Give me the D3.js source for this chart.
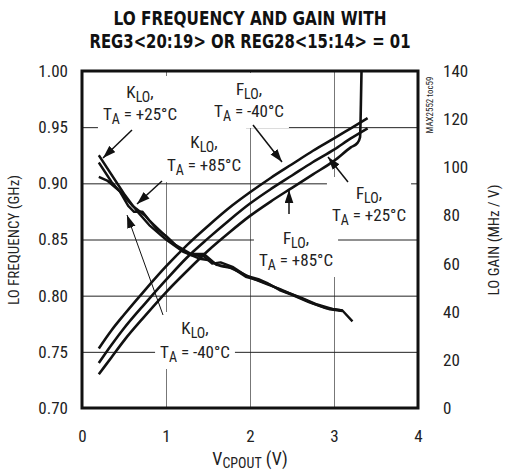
<!DOCTYPE html>
<html><head><meta charset="utf-8">
<script src="https://cdn.jsdelivr.net/npm/d3@7"></script>
<style>
body{margin:0;background:#fff;}
svg text{font-family:"Liberation Sans Narrow","Roboto Condensed","Roboto",sans-serif;fill:#222;}
</style></head><body>
<svg id="c" width="508" height="472"></svg>
<script>
// ---- data ----
const xTicks = [0, 1, 2, 3, 4];
const freqTicks = [0.70, 0.75, 0.80, 0.85, 0.90, 0.95, 1.00];
const gainTicks = [0, 20, 40, 60, 80, 100, 120, 140];

// LO frequency (GHz) vs VCPOUT (V)
const freqM40 = [[0.2,0.753],[0.35,0.769],[0.5,0.783],[0.75,0.805],[1.0,0.826],[1.25,0.845],[1.5,0.862],[1.75,0.878],[2.0,0.892],[2.25,0.905],[2.5,0.917],[2.75,0.929],[3.0,0.940],[3.2,0.949],[3.4,0.958]];
const freqP25 = [[0.2,0.740],[0.35,0.756],[0.5,0.771],[0.75,0.793],[1.0,0.814],[1.25,0.834],[1.5,0.851],[1.75,0.867],[2.0,0.882],[2.25,0.895],[2.5,0.907],[2.75,0.919],[3.0,0.930],[3.2,0.940],[3.4,0.949]];
const freqP85 = [[0.2,0.730],[0.35,0.745],[0.5,0.760],[0.75,0.782],[1.0,0.803],[1.25,0.822],[1.5,0.840],[1.75,0.856],[2.0,0.871],[2.25,0.884],[2.5,0.896],[2.75,0.908],[3.0,0.920],[3.2,0.932],[3.28,0.936],[3.31,0.941],[3.32,0.97],[3.33,1.01]];

// LO gain (MHz/V) vs VCPOUT (V)
const gainP25 = [[0.2,105],[0.35,97],[0.5,89],[0.65,82],[0.8,76],[1.0,70],[1.2,65],[1.4,62],[1.5,61.5],[1.65,59],[1.8,58],[1.95,54.5],[2.1,53],[2.25,51],[2.4,48.5],[2.6,46],[2.8,43],[3.0,41],[3.1,40.5],[3.22,36]];
const gainP85 = [[0.2,102],[0.35,94],[0.5,88],[0.6,84],[0.75,80],[0.9,74],[1.0,71.5],[1.15,66.5],[1.3,63.5],[1.45,63],[1.55,60],[1.65,60.5],[1.8,58.5],[1.95,55],[2.1,53.5],[2.2,52],[2.35,49],[2.5,47],[2.7,44],[2.9,41.5],[3.1,40.5]];
const gainM40 = [[0.2,96],[0.3,94.5],[0.45,90],[0.55,84],[0.62,81.5],[0.72,81.5],[0.8,78],[0.95,73],[1.1,68],[1.3,64],[1.45,64],[1.6,59.5],[1.75,58.5],[1.9,56],[2.05,53.5],[2.2,51.5],[2.35,49.5],[2.55,46.5],[2.75,43.5],[2.95,41],[3.1,40.3]];

const titleLines = ["LO FREQUENCY AND GAIN WITH", "REG3<20:19> OR REG28<15:14> = 01"];

// ---- layout ----
const L = 82, R = 418, T = 71, B = 408;
const svg = d3.select("#c");
const x = d3.scaleLinear([0, 4], [L, R]);
const yF = d3.scaleLinear([0.70, 1.00], [B, T]);
const yG = d3.scaleLinear([0, 140], [B, T]);

// title
svg.append("g").selectAll("text").data(titleLines).join("text")
  .attr("x", 250).attr("y", (d, i) => 25 + i * 23)
  .attr("text-anchor", "middle")
  .attr("textLength", (d, i) => i === 0 ? 273 : 321)
  .attr("lengthAdjust", "spacingAndGlyphs")
  .style("font-family", "'Liberation Sans Narrow','DejaVu Sans Condensed',sans-serif")
  .style("font-weight", "bold").style("font-size", "20px").style("fill", "#111")
  .text(d => d);

// gridlines
const grid = svg.append("g");
grid.append("g").attr("transform", `translate(0,${B})`)
  .call(d3.axisBottom(x).tickValues(xTicks.slice(1, -1)).tickSize(-(B - T)).tickFormat(""))
  .call(g => g.select(".domain").remove())
  .call(g => g.selectAll("line").attr("stroke", "#777").attr("stroke-width", 1));
grid.append("g").attr("transform", `translate(${L},0)`)
  .call(d3.axisLeft(yF).tickValues(freqTicks.slice(1, -1)).tickSize(-(R - L)).tickFormat(""))
  .call(g => g.select(".domain").remove())
  .call(g => g.selectAll("line").attr("stroke", "#222").attr("stroke-width", 1));

// tick labels
const fs = "17px";
svg.append("g").attr("transform", `translate(0,${B})`)
  .call(d3.axisBottom(x).tickValues(xTicks).tickSize(0).tickPadding(22).tickFormat(d3.format("d")))
  .call(g => g.select(".domain").remove())
  .call(g => g.selectAll("text").style("font-size", fs).style("font-family", null));
svg.append("g").attr("transform", `translate(${L},0)`)
  .call(d3.axisLeft(yF).tickValues(freqTicks).tickSize(0).tickPadding(14).tickFormat(d3.format(".2f")))
  .call(g => g.select(".domain").remove())
  .call(g => g.selectAll("text").style("font-size", fs).style("font-family", null));
svg.append("g").attr("transform", `translate(${R},0)`)
  .call(d3.axisRight(yG).tickValues(gainTicks).tickSize(0).tickPadding(25).tickFormat(d3.format("d")))
  .call(g => g.select(".domain").remove())
  .call(g => g.selectAll("text").style("font-size", fs).style("font-family", null));

// axis titles
svg.append("text").attr("transform", "translate(19,240) rotate(-90)")
  .attr("text-anchor", "middle").style("font-size", "15px").text("LO FREQUENCY (GHz)");
svg.append("text").attr("transform", "translate(499,240) rotate(-90)")
  .attr("text-anchor", "middle").style("font-size", "15px").text("LO GAIN (MHz / V)");
const xt = svg.append("text").attr("x", 250).attr("y", 465).attr("text-anchor", "middle").style("font-size", "18px");
xt.append("tspan").text("V");
xt.append("tspan").attr("dy", 3).style("font-size", "14px").text("CPOUT");
xt.append("tspan").attr("dy", -3).text(" (V)");
svg.append("text").attr("transform", "translate(433,105) rotate(-90)")
  .attr("text-anchor", "middle").style("font-size", "9px").text("MAX2552 toc59");

// annotation labels with white boxes
const notes = [
  {m: "K", s: "LO", t: "+25°C", cx: 140, y1: 98, y2: 120},
  {m: "K", s: "LO", t: "+85°C", cx: 204, y1: 148, y2: 171},
  {m: "F", s: "LO", t: "-40°C", cx: 249, y1: 95, y2: 117},
  {m: "F", s: "LO", t: "+25°C", cx: 369, y1: 199, y2: 221},
  {m: "F", s: "LO", t: "+85°C", cx: 296, y1: 244, y2: 266},
  {m: "K", s: "LO", t: "-40°C", cx: 195, y1: 334, y2: 358}
];
const ng = svg.append("g");
notes.forEach(n => {
  const g = ng.append("g");
  const box = g.append("rect").attr("fill", "#fff");
  const t1 = g.append("text").attr("x", n.cx).attr("y", n.y1).attr("text-anchor", "middle").style("font-size", fs);
  t1.append("tspan").text(n.m);
  t1.append("tspan").attr("dy", 4).style("font-size", "14px").text(n.s);
  t1.append("tspan").attr("dy", -4).text(",");
  const t2 = g.append("text").attr("x", n.cx).attr("y", n.y2).attr("text-anchor", "middle").style("font-size", fs);
  t2.append("tspan").text("T");
  t2.append("tspan").attr("dy", 4).style("font-size", "14px").text("A");
  t2.append("tspan").attr("dy", -4).text(" = " + n.t);
  const bb = g.node().getBBox();
  box.attr("x", bb.x - 5).attr("y", bb.y - 6).attr("width", bb.width + 10).attr("height", bb.height + 10);
});

// frame
svg.append("rect").attr("x", L).attr("y", T).attr("width", R - L).attr("height", B - T)
  .attr("fill", "none").attr("stroke", "#111").attr("stroke-width", 3);

// curves
svg.append("clipPath").attr("id", "clip").append("rect")
  .attr("x", L).attr("y", T).attr("width", R - L).attr("height", B - T);
const cg = svg.append("g").attr("clip-path", "url(#clip)");
const lineF = d3.line().x(d => x(d[0])).y(d => yF(d[1])).curve(d3.curveMonotoneX);
const lineG = d3.line().x(d => x(d[0])).y(d => yG(d[1])).curve(d3.curveLinear);
[freqM40, freqP25, freqP85].forEach(s => cg.append("path").attr("d", lineF(s))
  .attr("fill", "none").attr("stroke", "#111").attr("stroke-width", 2.6));
[gainP25, gainP85, gainM40].forEach(s => cg.append("path").attr("d", lineG(s))
  .attr("fill", "none").attr("stroke", "#111").attr("stroke-width", 2.4).attr("stroke-linejoin", "round"));

// arrows
svg.append("defs").append("marker").attr("id", "ah")
  .attr("viewBox", "0 0 12 8").attr("refX", 12).attr("refY", 4)
  .attr("markerWidth", 13).attr("markerHeight", 9).attr("markerUnits", "userSpaceOnUse")
  .attr("orient", "auto")
  .append("path").attr("d", "M0,0L12,4L0,8Z").attr("fill", "#111");
const arrows = [
  [132, 130, 103, 158, 1.5],
  [162, 181, 137, 204, 1.5],
  [163, 315, 127, 215, 1],
  [253, 125, 282, 162, 1.5],
  [348, 182, 328, 157, 1.5],
  [289, 214, 289, 190, 1.5]
];
svg.append("g").selectAll("line").data(arrows).join("line")
  .attr("x1", d => d[0]).attr("y1", d => d[1]).attr("x2", d => d[2]).attr("y2", d => d[3])
  .attr("stroke", "#111").attr("stroke-width", d => d[4]).attr("marker-end", "url(#ah)");
</script>
</body></html>
